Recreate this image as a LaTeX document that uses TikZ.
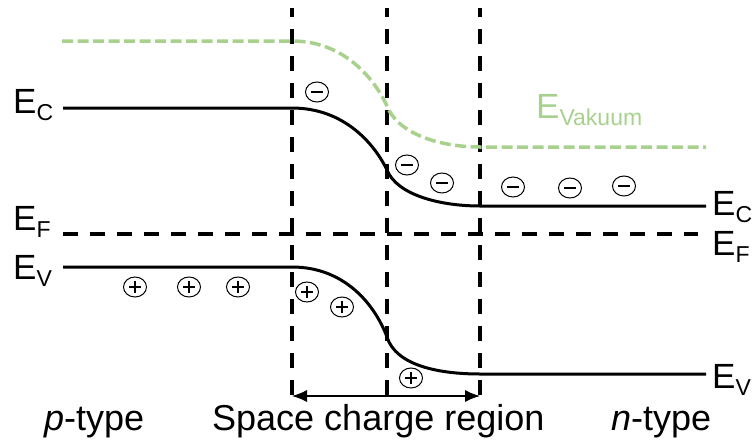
\documentclass[tikz,border=0pt]{standalone}
\usepackage{fontspec}
\setmainfont{Liberation Sans}
\usetikzlibrary{shapes.geometric,arrows.meta}
\definecolor{vacgreen}{HTML}{A9D18E}
\newcommand{\bigfont}{\fontsize{35}{40}\selectfont}
\newcommand{\subfont}{\fontsize{23}{26}\selectfont}
\newcommand{\Elev}[1]{E\raisebox{-0.2em}{\subfont #1}}
\tikzset{
  band/.style={line width=3pt},
  fermi/.style={line width=3.3pt, dash pattern=on 15pt off 12pt},
  boundary/.style={line width=3.3pt, dash pattern=on 15pt off 12pt, dash phase=6pt},
  vac/.style={vacgreen, line width=3.5pt, dash pattern=on 11pt off 4.5pt},
  lbl/.style={inner sep=0pt, anchor=base west, font=\bigfont},
  charge/.style={draw, ellipse, line width=1pt, minimum width=23pt, minimum height=20pt, inner sep=0pt},
  minuscharge/.style={charge, path picture={\draw[line width=1.3pt] ([xshift=-6pt]path picture bounding box.center) -- ([xshift=6pt]path picture bounding box.center);}},
  pluscharge/.style={charge, path picture={\draw[line width=1.3pt] ([xshift=-6pt]path picture bounding box.center) -- ([xshift=6pt]path picture bounding box.center) ([yshift=-6pt]path picture bounding box.center) -- ([yshift=6pt]path picture bounding box.center);}},
  span/.style={line width=1.2pt, {Latex[length=15pt,width=12pt]}-{Latex[length=15pt,width=12pt]}}
}
\begin{document}
\begin{tikzpicture}[x=1pt,y=-1pt]
\useasboundingbox (0,0) rectangle (755,442);
% boundaries of space charge region
\coordinate (b1t) at (292,8);  \coordinate (b1b) at (292,402);
\coordinate (b2t) at (387,8); \coordinate (b2b) at (387,402);
\coordinate (b3t) at (480,8);  \coordinate (b3b) at (480,402);
\draw[boundary] (b1t) -- (b1b);
\draw[boundary] (b2t) -- (b2b);
\draw[boundary] (b3t) -- (b3b);
% vacuum level
\draw[vac] (62,41) -- (292,41) .. controls (345,41) and (375,80) .. (387,106)
  .. controls (398,134) and (440,147) .. (480,147) -- (706,147);
% conduction band
\draw[band] (63,108) -- (292,108) .. controls (345,108) and (375,145) .. (387,170)
  .. controls (397,195) and (440,206) .. (480,206) -- (706,206);
% Fermi level
\draw[fermi] (63,234) -- (698,234);
% valence band
\draw[band] (63,267) -- (292,267) .. controls (345,267) and (375,305) .. (387,337)
  .. controls (396,366) and (440,374) .. (480,374) -- (706,374);
% width arrow
\coordinate (a1) at (292,396); \coordinate (a2) at (480,396);
\draw[span] (a1) -- (a2);
% labels
\node[lbl] (ecl) at (13,113) {\Elev{C}};
\node[lbl] (efl) at (13,230) {\Elev{F}};
\node[lbl] (evl) at (13,279) {\Elev{V}};
\node[lbl] (ecr) at (712,215) {\Elev{C}};
\node[lbl] (efr) at (712,255) {\Elev{F}};
\node[lbl] (evr) at (712,388) {\Elev{V}};
\node[lbl, text=vacgreen] (evac) at (536,118) {\Elev{Vakuum}};
\node[lbl, font=\fontsize{36}{40}\selectfont] (pt) at (44,430) {\textit{p}-type};
\node[lbl, font=\fontsize{36}{40}\selectfont] (scr) at (212,430) {Space charge region};
\node[lbl, font=\fontsize{36}{40}\selectfont] (nt) at (611,430) {\textit{n}-type};
% charges
\node[minuscharge] (m1) at (317,92) {};
\node[minuscharge] (m2) at (407,165) {};
\node[minuscharge] (m3) at (442,183) {};
\node[minuscharge] (m4) at (513,187) {};
\node[minuscharge] (m5) at (570,188) {};
\node[minuscharge] (m6) at (624,186) {};
\node[pluscharge] (p1) at (135,287) {};
\node[pluscharge] (p2) at (189,287) {};
\node[pluscharge] (p3) at (238,287) {};
\node[pluscharge] (p4) at (307,292) {};
\node[pluscharge] (p5) at (342,307) {};
\node[pluscharge] (p6) at (411,378) {};
\end{tikzpicture}
\end{document}
